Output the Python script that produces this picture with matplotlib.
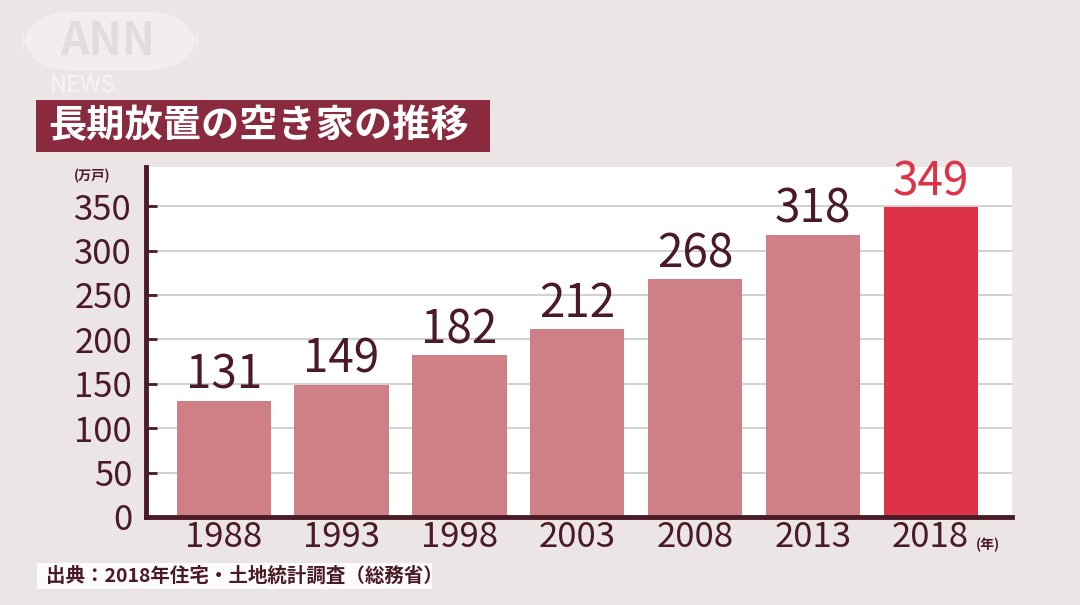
import matplotlib

matplotlib.use("Agg")

import matplotlib.pyplot as plt
from matplotlib.patches import FancyBboxPatch, Rectangle

plt.rcParams["font.family"] = ["Noto Sans CJK JP", "DejaVu Sans"]

years = ["1988", "1993", "1998", "2003", "2008", "2013", "2018"]
vacant_homes = [131, 149, 182, 212, 268, 318, 349]
y_ticks = [0, 50, 100, 150, 200, 250, 300, 350]

W, H = 1080, 605
BG = "#ece5e5"
DARK = "#4a1a26"
BAR = "#cf7f86"
HIGHLIGHT = "#dc3347"

fig = plt.figure(figsize=(W / 100, H / 100), dpi=100, facecolor=BG)


def px_box(x0, y0, x1, y1):
    """Pixel box (top-left origin) -> figure fraction [l, b, w, h]."""
    return [x0 / W, 1 - y1 / H, (x1 - x0) / W, (y1 - y0) / H]


# faint broadcaster watermark
l, b, w, h = px_box(22, 12, 198, 70)
fig.patches.append(FancyBboxPatch((l, b), w, h, transform=fig.transFigure,
                                  boxstyle="round,pad=0,rounding_size=0.045",
                                  facecolor="white", alpha=0.35, edgecolor="none",
                                  mutation_aspect=W / H))
fig.text(108 / W, 1 - 42 / H, "ANN", fontsize=32, color="#e4dcdc",
         fontweight="bold", va="center", ha="center", style="italic")
fig.text(50 / W, 1 - 86 / H, "NEWS", fontsize=17, color="white", alpha=0.6,
         va="center")

# title banner
l, b, w, h = px_box(36, 100, 490, 152)
fig.patches.append(Rectangle((l, b), w, h, transform=fig.transFigure,
                             facecolor="#8a2a3f", edgecolor="none"))
fig.text(l + 12 / W, b + h / 2, "長期放置の空き家の推移", fontsize=27.5,
         fontweight="bold", color="white", va="center", ha="left")

ax = fig.add_axes(px_box(146, 167, 1012, 517))
ax.set_facecolor("white")

colors = [BAR] * (len(years) - 1) + [HIGHLIGHT]
x = range(len(years))
bars = ax.bar(x, vacant_homes, width=0.8, color=colors, zorder=2)

for i, (bar, v) in enumerate(zip(bars, vacant_homes)):
    ax.text(bar.get_x() + bar.get_width() / 2, v + 1, str(v),
            ha="center", va="bottom", fontsize=33,
            color=HIGHLIGHT if i == len(years) - 1 else DARK)

ax.set_xlim(-0.66, len(years) - 1 + 0.69)
ax.set_ylim(0, 394)
ax.set_yticks(y_ticks)
ax.set_xticks(list(x))
ax.set_xticklabels(years)
ax.yaxis.grid(True, color="#c9c9c9", linewidth=1.2, zorder=0)
ax.set_axisbelow(True)

for side in ["top", "right"]:
    ax.spines[side].set_visible(False)
for side in ["left", "bottom"]:
    ax.spines[side].set_color(DARK)
    ax.spines[side].set_linewidth(3.5)

ax.tick_params(axis="y", direction="in", length=8, width=2, color=DARK,
               labelsize=25, labelcolor=DARK, pad=10)
ax.tick_params(axis="x", length=0, labelsize=25, labelcolor=DARK, pad=2)

# unit labels
fig.text(92 / W, 1 - 176 / H, "(万戸)", fontsize=9.5, color=DARK,
         ha="center", va="center", fontweight="bold")
fig.text(988 / W, 1 - 545 / H, "(年)", fontsize=10, color=DARK,
         ha="center", va="center", fontweight="bold")

# source box
l, b, w, h = px_box(37, 563, 432, 589)
fig.patches.append(Rectangle((l, b), w, h, transform=fig.transFigure,
                             facecolor="white", edgecolor="none", alpha=0.9))
fig.text(l + 9 / W, b + h / 2, "出典：2018年住宅・土地統計調査（総務省）",
         fontsize=14, color=DARK, va="center", ha="left", fontweight="bold")

fig.savefig("out.png", dpi=100, facecolor=BG)
